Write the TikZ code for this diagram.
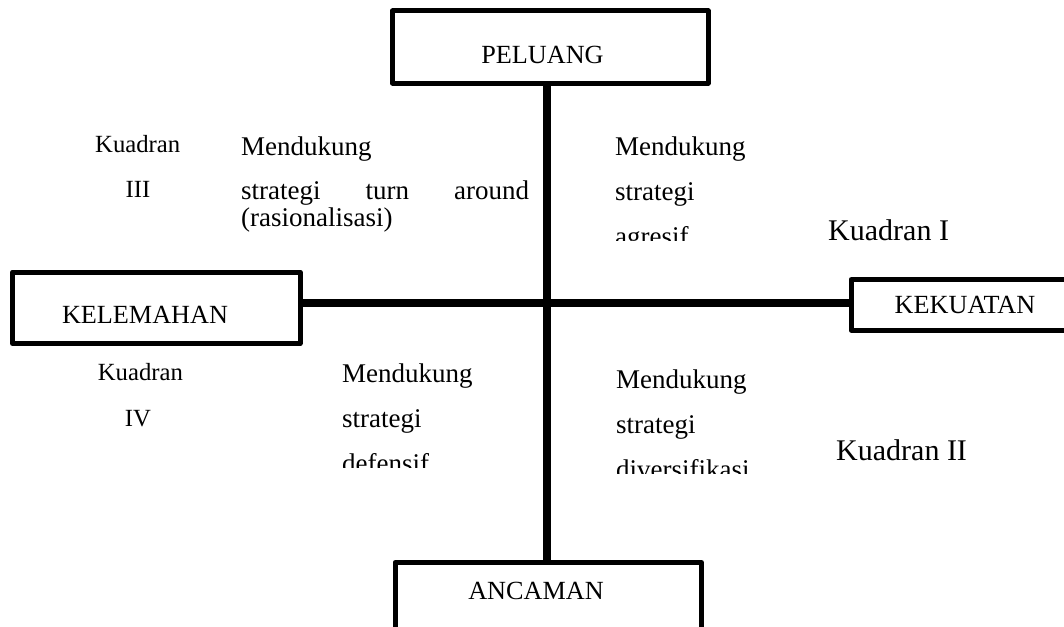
\documentclass[tikz,border=0pt]{standalone}
\usepackage{fontspec}
\setmainfont{Liberation Serif}
\begin{document}
\begin{tikzpicture}[x=1pt,y=-1pt,
  boxshape/.style={draw=black, line width=5pt, line join=round, inner sep=0pt, outer sep=0pt},
  caplbl/.style={font=\fontsize{26.2}{30}\selectfont, inner sep=0pt, anchor=base},
  body/.style={font=\fontsize{27}{33}\selectfont, inner sep=0pt, anchor=base west},
  quadsmall/.style={font=\fontsize{24.7}{29}\selectfont, inner sep=0pt},
  quadbig/.style={font=\fontsize{30}{36}\selectfont, inner sep=0pt, anchor=base west},
  axisv/.style={draw=black, line width=8pt},
  axish/.style={draw=black, line width=7.5pt}]
\clip (0,0) rectangle (1064,626);
\fill[white] (0,0) rectangle (1064,626);

% boxes
\node[boxshape, minimum width=315.5pt, minimum height=72pt] (peluang) at (550.25,47) {};
\node[boxshape, minimum width=287.5pt, minimum height=71.5pt] (kelemahan) at (156.25,307.75) {};
\node[boxshape, minimum width=234pt, minimum height=50.3pt] (kekuatan) at (968,304.85) {};
\node[boxshape, minimum width=306.5pt, minimum height=97.5pt] (ancaman) at (548.25,611.25) {};

% box labels
\node[caplbl] (peluangtxt) at (542.5,63.3) {PELUANG};
\node[caplbl] (kelemahantxt) at (145,323.3) {KELEMAHAN};
\node[caplbl] (kekuatantxt) at (965,313.3) {KEKUATAN};
\node[caplbl] (ancamantxt) at (536,599) {ANCAMAN};

% axes
\coordinate (ctr) at (547,303);
\draw[axisv] (ctr |- peluang.south) -- (ctr |- ancaman.north);
\draw[axish] (kelemahan.east |- ctr) -- (kekuatan.west |- ctr);

% quadrant III (top left)
\node[quadsmall, anchor=base west] (k3a) at (95,152) {Kuadran};
\node[quadsmall, anchor=base] (k3b) at (138,197) {III};
\node[body] (tl1) at (241,155) {Mendukung};
\node[body] (tl2) at (241,199) {\hbox to 288pt{strategi\hfill turn\hfill around}};
\node[body] (tl3) at (241,226) {(rasionalisasi)};

% quadrant I (top right)
\node[body] (tr1) at (615,155) {Mendukung};
\node[body] (tr2) at (615,200) {strategi};
\begin{scope}
  \clip (600,215) rectangle (800,240);
  \node[body] (tr3) at (615,245) {agresif};
\end{scope}
\node[quadbig] (k1) at (828,240) {Kuadran I};

% quadrant IV (bottom left)
\node[quadsmall, anchor=base west] (k4a) at (97.7,380) {Kuadran};
\node[quadsmall, anchor=base] (k4b) at (138,426.7) {IV};
\node[body] (bl1) at (342,382) {Mendukung};
\node[body] (bl2) at (342,427) {strategi};
\begin{scope}
  \clip (330,440) rectangle (530,467);
  \node[body] (bl3) at (342,472) {defensif};
\end{scope}

% quadrant II (bottom right)
\node[body] (br1) at (616,388) {Mendukung};
\node[body] (br2) at (616,433) {strategi};
\begin{scope}
  \clip (600,445) rectangle (800,473);
  \node[body] (br3) at (616,478) {diversifikasi};
\end{scope}
\node[quadbig] (k2) at (836,460) {Kuadran II};
\end{tikzpicture}
\end{document}
